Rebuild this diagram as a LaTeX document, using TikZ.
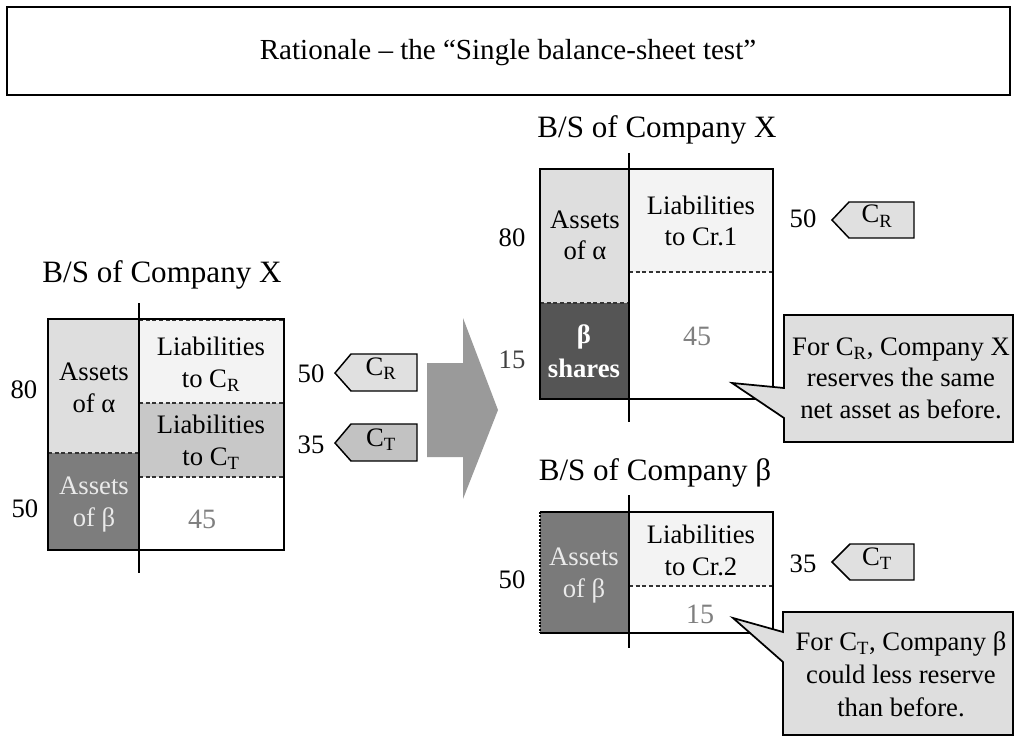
\documentclass[tikz,border=0pt]{standalone}
\usepackage{fontspec}
\setmainfont{Liberation Serif}
\definecolor{cAlpha}{HTML}{DEDEDE}
\definecolor{cLiabR}{HTML}{F3F3F3}
\definecolor{cLiabT}{HTML}{C8C8C8}
\definecolor{cBetaL}{HTML}{7D7D7D}
\definecolor{cShares}{HTML}{555555}
\definecolor{cBetaR}{HTML}{7A7A7A}
\definecolor{cArrow}{HTML}{9A9A9A}
\definecolor{cTagR}{HTML}{E0E0E0}
\definecolor{cTagT}{HTML}{C2C2C2}
\definecolor{cCall}{HTML}{DEDEDE}
\definecolor{cNum}{HTML}{7F7F7F}
\definecolor{cWhiteTxt}{HTML}{EAEAEA}
\begin{document}
\begin{tikzpicture}[x=0.75pt,y=-0.75pt,
  every node/.style={inner sep=0pt, align=center, font=\fontsize{20}{24}\selectfont},
  txt/.style={anchor=base},
  cell/.style={anchor=base, font=\fontsize{20}{24}\selectfont},
  head/.style={anchor=base, font=\fontsize{23.3}{28}\selectfont},
  border/.style={draw=black, line width=1.5pt},
  sepline/.style={draw=black, line width=1.7pt},
  dashsep/.style={draw=black!80, line width=0.8pt, dash pattern=on 3pt off 2pt},
  tagbox/.style={draw=black, line width=1.1pt, line join=miter},
  callbox/.style={draw=black, line width=1.3pt, fill=cCall, line join=miter},
  graynum/.style={anchor=base, text=cNum, font=\fontsize{21}{24}\selectfont}]
\useasboundingbox (0,0) rectangle (1018,738);

% title
\draw[line width=1.3pt] (7,7) rectangle (1010,95);
\node[anchor=base, font=\fontsize{21.8}{26}\selectfont] (title) at (508,60) {Rationale – the “Single balance-sheet test”};

% ---------- left balance sheet ----------
\node[head] (hL) at (162,282) {B/S of Company X};
\fill[cAlpha] (48,319) rectangle (139,453);
\fill[cBetaL] (48,453) rectangle (139,550);
\fill[cLiabR] (139,319) rectangle (284,403);
\fill[cLiabT] (139,403) rectangle (284,477);
\fill[white] (139,477) rectangle (284,550);
\draw[dashsep] (48,453) -- (139,453);
\draw[dashsep] (139,403) -- (284,403);
\draw[dashsep] (139,477) -- (284,477);
\draw[dashsep] (139,320) -- (284,320);
\draw[border] (48,319) rectangle (284,550);
\draw[sepline] (139,303) -- (139,573);

\node[cell] (aAlphaL) at (94,412) {Assets\\of α};
\node[cell, text=cWhiteTxt] (aBetaL) at (94,526) {Assets\\of β};
\node[cell] (lRL) at (211,387) {Liabilities\\to C\textsubscript{R}};
\node[cell] (lTL) at (211,465) {Liabilities\\to C\textsubscript{T}};
\node[graynum] (eqL) at (202,528) {45};
\node[txt] (n80L) at (24,398) {80};
\node[txt] (n50L) at (25,517) {50};

% left tags
\node[txt] (v50L) at (311,382) {50};
\draw[tagbox, fill=cTagR] (335,373) -- (351,354) -- (417,354) -- (417,391) -- (351,391) -- cycle;
\node[txt] (tRL) at (381,375) {C\textsubscript{R}};
\node[txt] (v35L) at (311,453) {35};
\draw[tagbox, fill=cTagT] (335,443) -- (351,424) -- (417,424) -- (417,461) -- (351,461) -- cycle;
\node[txt] (tTL) at (381,446) {C\textsubscript{T}};

% big arrow
\fill[cArrow] (427,363) -- (463,363) -- (463,318) -- (498,410) -- (463,499) -- (463,457) -- (427,457) -- cycle;

% ---------- right top balance sheet ----------
\node[head] (hX) at (657,138) {B/S of Company X};
\fill[cAlpha] (540,169) rectangle (629,303);
\fill[cShares] (540,303) rectangle (629,399);
\fill[cLiabR] (629,169) rectangle (773,272);
\fill[white] (629,272) rectangle (773,399);
\draw[dashsep] (540,303) -- (629,303);
\draw[dashsep] (629,272) -- (773,272);
\draw[border] (540,169) rectangle (773,399);
\draw[sepline] (629,153) -- (629,422);

\node[cell] (aAlphaX) at (585,260) {Assets\\of α};
\node[cell, text=white, font=\bfseries\fontsize{20}{25.5}\selectfont] (shares) at (584,377) {β\\shares};
\node[cell] (lCr1) at (701,246) {Liabilities\\to Cr.1};
\node[graynum] (eqX) at (697,345) {45};
\node[txt] (n80X) at (512,247) {80};
\node[txt, text=black!75] (n15X) at (512,368) {15};

\node[txt] (v50X) at (803,228) {50};
\draw[tagbox, fill=cTagR] (832,220) -- (849,202) -- (914,202) -- (914,238) -- (849,238) -- cycle;
\node[txt] (tRX) at (877,223) {C\textsubscript{R}};

% callout 1
\draw[callbox] (784,315) -- (1013,315) -- (1013,442) -- (784,442) -- (784,418) -- (732,383) -- (784,388) -- cycle;
\node[txt, font=\fontsize{20}{23.6}\selectfont] (call1) at (901,418) {For C\textsubscript{R}, Company X\\reserves the same\\net asset as before.};

% ---------- right bottom balance sheet ----------
\node[head] (hB) at (655,480) {B/S of Company β};
\fill[cBetaR] (540,512) rectangle (629,633);
\fill[cLiabR] (629,512) rectangle (773,586);
\fill[white] (629,586) rectangle (773,633);
\draw[dashsep] (629,586) -- (773,586);
\draw[border] (540,512) -- (773,512) -- (773,633) -- (540,633);
\draw[line width=1pt, dash pattern=on 1.5pt off 1pt] (540,512) -- (540,633);
\draw[sepline] (629,495) -- (629,648);

\node[cell, text=cWhiteTxt] (aBetaB) at (584,597) {Assets\\of β};
\node[cell] (lCr2) at (701,575) {Liabilities\\to Cr.2};
\node[graynum] (eqB) at (700,623) {15};
\node[txt] (n50B) at (512,588) {50};

\node[txt] (v35B) at (803,572) {35};
\draw[tagbox, fill=cTagR] (832,562) -- (850,544) -- (914,544) -- (914,580) -- (850,580) -- cycle;
\node[txt] (tTB) at (877,565) {C\textsubscript{T}};

% callout 2
\draw[callbox] (783,612) -- (1013,612) -- (1013,735) -- (783,735) -- (783,662) -- (733,618) -- (783,632) -- cycle;
\node[txt, font=\fontsize{20}{24.5}\selectfont] (call2) at (901,716) {For C\textsubscript{T}, Company β\\could less reserve\\than before.};
\end{tikzpicture}
\end{document}
